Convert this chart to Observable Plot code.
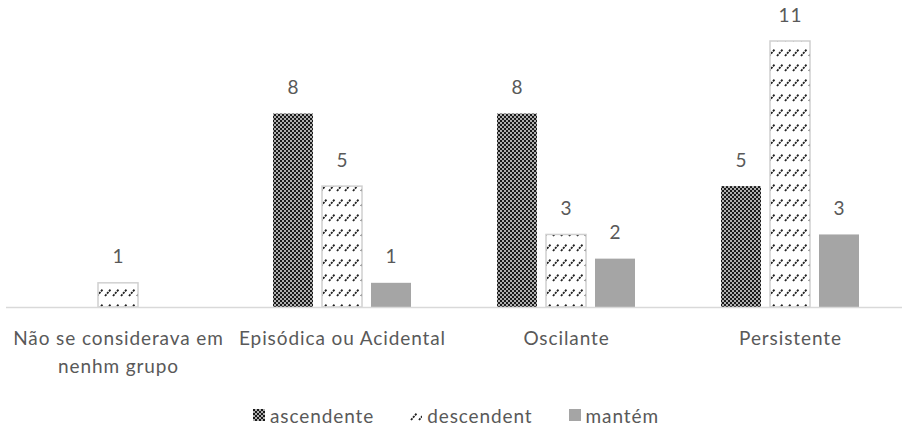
<!DOCTYPE html>
<html><head><meta charset="utf-8">
<script src="https://cdn.jsdelivr.net/npm/d3@7"></script>
<script src="https://cdn.jsdelivr.net/npm/@observablehq/plot@0.6"></script>
<style>
body{margin:0;background:#fff;font-family:Lato,"Open Sans",sans-serif;width:902px;height:432px;overflow:hidden;}
#legend{display:flex;justify-content:center;align-items:center;height:42px;box-sizing:border-box;padding-top:8px;font-size:19px;letter-spacing:0.9px;color:#595959;padding-left:10px;}
#legend .item{display:flex;align-items:center;margin:0 18px;}
#legend svg{margin-right:5px;}
</style></head><body>
<svg width="0" height="0" style="position:absolute">
<defs>
<pattern id="pat-asc" width="4" height="4" patternUnits="userSpaceOnUse">
<rect width="4" height="4" fill="#b0b0b0"/>
<rect width="2" height="2" fill="#1a1a1a"/>
<rect x="2" y="2" width="2" height="2" fill="#1a1a1a"/>
</pattern>
<pattern id="pat-desc" width="8" height="15" patternUnits="userSpaceOnUse">
<rect width="8" height="15" fill="#fff"/>
<path d="M1,11 L7,4" stroke="#222" stroke-width="1.8" stroke-dasharray="2.2 0.9"/>
</pattern>
</defs></svg>
<div id="chart"></div>
<div id="legend"></div>
<script>
const categories = ["Não se considerava em\nnenhm grupo", "Episódica ou Acidental", "Oscilante", "Persistente"];
const series = ["ascendente", "descendent", "mantém"];
const ascendente = [null, 8, 8, 5];
const descendent = [1, 5, 3, 11];
const mantem = [null, 1, 2, 3];
const seriesFills = ["url(#pat-asc)", "url(#pat-desc)", "#a5a5a5"];

const seriesValues = [ascendente, descendent, mantem];
const rows = categories.flatMap((c, i) =>
  seriesValues.map((arr, j) => ({category: c, series: series[j], value: arr[i]}))
).filter(d => d.value != null);

const chart = Plot.plot({
  width: 902,
  height: 390,
  marginLeft: 6,
  marginRight: 0,
  marginTop: 41,
  marginBottom: 83,
  style: {fontFamily: "Lato, 'Open Sans', sans-serif", background: "#fff", letterSpacing: "0.9px"},
  fx: {domain: categories, padding: 0},
  x: {domain: series, paddingInner: 0.19, paddingOuter: 0.86, axis: null},
  y: {domain: [0, 11], axis: null},
  color: {domain: series, range: seriesFills},
  marks: [
    Plot.barY(rows, {fx: "category", x: "series", y: "value", fill: "series"}),
    Plot.barY(rows.filter(d => d.series === "descendent"), {fx: "category", x: "series", y: "value", fill: "none", stroke: "#d0d0d0", strokeWidth: 1.5}),
    Plot.ruleY([0], {stroke: "#d9d9d9", strokeWidth: 1.5}),
    Plot.text(rows, {fx: "category", x: "series", y: "value", text: d => String(d.value), dy: -26, fontSize: 19, fill: "#595959"}),
    Plot.axisFx({anchor: "bottom", tickSize: 0, tickPadding: 18, fontSize: 19, lineHeight: 1.47, fill: "#595959", label: null})
  ]
});
document.getElementById("chart").appendChild(chart);

const legend = d3.select("#legend");
series.forEach((s, i) => {
  const item = legend.append("div").attr("class", "item");
  const sw = item.append("svg").attr("width", 12).attr("height", 12);
  sw.append("rect").attr("width", 12).attr("height", 12).attr("fill", seriesFills[i]);
  item.append("span").text(s);
});
</script>
</body></html>
